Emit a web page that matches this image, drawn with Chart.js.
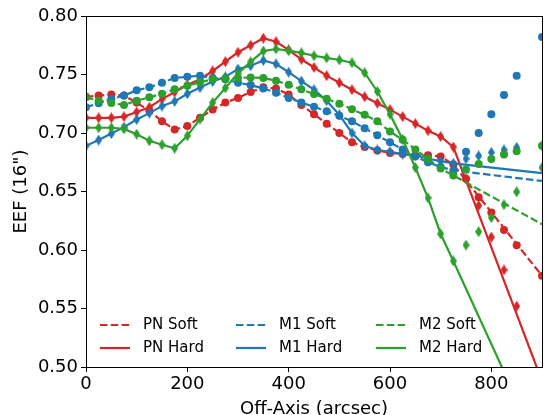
<!DOCTYPE html>
<html>
<head>
<meta charset="utf-8">
<script src="https://cdn.jsdelivr.net/npm/chart.js@4.4.0/dist/chart.umd.min.js"></script>
<style>
html, body { margin: 0; padding: 0; background: #fff; overflow: hidden; }
#wrap { width: 546px; height: 415px; }
</style>
</head>
<body>
<div id="wrap"><canvas id="myChart" width="546" height="415"></canvas></div>
<script>
// EEF vs off-axis angle
const offAxis = [0, 25, 50, 75, 100, 125, 150, 175, 200, 225, 250, 275, 300, 325, 350, 375, 400, 425, 450, 475,
    500, 525, 550, 575, 600, 625, 650, 675, 700, 725, 750, 775, 800, 825, 850, 900]

const pnSoft = [0.731, 0.732, 0.733, 0.732, 0.726, 0.719, 0.710, 0.703, 0.706, 0.713, 0.720, 0.726, 0.730, 0.735, 0.739, 0.738, 0.733, 0.724, 0.716, 0.708,
    0.700, 0.692, 0.688, 0.685, 0.683, 0.682, 0.681, 0.681, 0.680, 0.673, 0.661, 0.645, 0.632, 0.617, 0.604, 0.578]
const pnHard = [0.713, 0.713, 0.713, 0.714, 0.718, 0.722, 0.729, 0.735, 0.741, 0.746, 0.753, 0.761, 0.769, 0.775, 0.781, 0.778, 0.771, 0.763, 0.756, 0.749,
    0.743, 0.737, 0.731, 0.7255, 0.720, 0.714, 0.708, 0.702, 0.697, 0.688, 0.661, 0.638, 0.611, 0.583, 0.552, null]
const m1Soft = [0.722, 0.7255, 0.729, 0.732, 0.7365, 0.739, 0.743, 0.747, 0.748, 0.749, 0.747, 0.746, 0.743, 0.741, 0.738, 0.7345, 0.730, 0.726, 0.7225, 0.7185,
    0.7147, 0.710, 0.704, 0.698, 0.692, 0.686, 0.680, 0.675, 0.671, 0.668, 0.684, 0.700, 0.716, 0.7325, 0.749, 0.782]
const m1Hard = [0.689, 0.694, 0.6995, 0.705, 0.7115, 0.717, 0.723, 0.727, 0.7335, 0.7388, 0.744, 0.748, 0.7547, 0.7575, 0.762, 0.759, 0.752, 0.7443, 0.737, 0.7276,
    0.7155, 0.700, 0.689, 0.6855, 0.684, 0.682, 0.681, 0.678, 0.676, 0.674, 0.678, 0.6805, 0.6834, 0.6856, 0.6877, 0.689]
const m2Soft = [0.7305, 0.7276, 0.7256, 0.724, 0.7276, 0.7305, 0.7336, 0.7373, 0.7404, 0.7433, 0.746, 0.7465, 0.747, 0.7475, 0.747, 0.7447, 0.7412, 0.7373, 0.7333, 0.7293,
    0.725, 0.7203, 0.7155, 0.710, 0.7012, 0.6942, 0.686, 0.6777, 0.6697, 0.6637, 0.6687, 0.6734, 0.6777, 0.6816, 0.6845, 0.689]
const m2Hard = [0.7045, 0.7045, 0.7045, 0.7035, 0.699, 0.6933, 0.690, 0.687, 0.6976, 0.7119, 0.726, 0.7385, 0.751, 0.7608, 0.770, 0.7718, 0.7704, 0.7685, 0.766, 0.7642,
    0.7624, 0.760, 0.7515, 0.7355, 0.7161, 0.6945, 0.6705, 0.6445, 0.6137, 0.5906, 0.6042, 0.6156, 0.6277, 0.6387, 0.6497, 0.6705]

// straight fit lines run from the last fitted point (725") out to 900"
const fitUntil = 725
const fitEndX = 900
const fitEnd = { pnSoft: 0.578, pnHard: 0.488, m1Soft: 0.659, m1Hard: 0.6657, m2Soft: 0.622, m2Hard: 0.425 }

const xTicks = [0, 200, 400, 600, 800]
const yTicks = [0.50, 0.55, 0.60, 0.65, 0.70, 0.75, 0.80]

const colores = { PN: '#d62728', M1: '#1f77b4', M2: '#2ca02c' }
const series = [
    { key: 'pnSoft', det: 'PN', band: 'Soft', vals: pnSoft },
    { key: 'pnHard', det: 'PN', band: 'Hard', vals: pnHard },
    { key: 'm1Soft', det: 'M1', band: 'Soft', vals: m1Soft },
    { key: 'm1Hard', det: 'M1', band: 'Hard', vals: m1Hard },
    { key: 'm2Soft', det: 'M2', band: 'Soft', vals: m2Soft },
    { key: 'm2Hard', det: 'M2', band: 'Hard', vals: m2Hard },
]

const FONT = "'DejaVu Sans', sans-serif"
const DASH = [7.5, 3.3]

function thinDiamond(color) {
    const c = document.createElement('canvas')
    c.width = 7; c.height = 11
    const g = c.getContext('2d')
    g.fillStyle = color
    g.beginPath()
    g.moveTo(3.5, 0); g.lineTo(7, 5.5); g.lineTo(3.5, 11); g.lineTo(0, 5.5)
    g.closePath()
    g.fill()
    return c
}

const datasets = []
series.forEach((s, i) => {
    const color = colores[s.det]
    const pts = offAxis.map((x, j) => ({ x: x, y: s.vals[j] })).filter(p => p.y !== null)
    const linePts = pts.filter(p => p.x <= fitUntil).concat([{ x: fitEndX, y: fitEnd[s.key] }])
    datasets.push({
        label: s.det + ' ' + s.band,
        data: linePts,
        showLine: true,
        borderColor: color,
        borderWidth: 2.2,
        borderDash: s.band === 'Soft' ? DASH : [],
        pointRadius: 0,
        clip: 0,
        order: 100 - i * 2
    })
    datasets.push({
        label: '',
        data: pts,
        showLine: false,
        backgroundColor: color,
        borderWidth: 0,
        pointStyle: s.band === 'Soft' ? 'circle' : thinDiamond(color),
        pointRadius: 4,
        clip: 0,
        order: 99 - i * 2
    })
})

// legend drawn by hand: 3 columns, 2 rows, no frame
const legendCols = [100, 236, 376]
const legendRows = [325, 348]
const legendPlugin = {
    id: 'leyenda',
    afterDraw(chart) {
        const ctx = chart.ctx
        ctx.save()
        ctx.font = '15px ' + FONT
        ctx.textBaseline = 'middle'
        ctx.fillStyle = '#000'
        series.forEach((s, i) => {
            const col = Math.floor(i / 2)
            const row = i % 2
            const x = legendCols[col]
            const y = legendRows[row]
            ctx.strokeStyle = colores[s.det]
            ctx.lineWidth = 2.2
            ctx.setLineDash(s.band === 'Soft' ? DASH : [])
            ctx.beginPath()
            ctx.moveTo(x, y)
            ctx.lineTo(x + 30, y)
            ctx.stroke()
            ctx.setLineDash([])
            ctx.fillText(s.det + ' ' + s.band, x + 43, y)
        })
        ctx.restore()
    }
}

const marcoPlugin = {
    id: 'marco',
    afterDraw(chart) {
        const a = chart.chartArea
        const ctx = chart.ctx
        ctx.save()
        ctx.strokeStyle = '#000'
        ctx.lineWidth = 1
        ctx.strokeRect(Math.round(a.left) + 0.5, Math.round(a.top) + 0.5, Math.round(a.right - a.left), Math.round(a.bottom - a.top))
        ctx.restore()
    }
}

const ctx = document.getElementById('myChart')

new Chart(ctx, {
    type: 'scatter',
    data: { datasets: datasets },
    options: {
        responsive: false,
        animation: false,
        devicePixelRatio: 1,
        layout: { padding: { top: 16, right: 2, left: 0, bottom: 0 } },
        plugins: {
            legend: { display: false },
            tooltip: { enabled: false }
        },
        scales: {
            x: {
                type: 'linear',
                min: 0,
                max: 900,
                afterBuildTicks: (s) => { s.ticks = xTicks.map(v => ({ value: v })) },
                afterFit: (s) => { s.height = 48 },
                ticks: { font: { family: FONT, size: 18 }, color: '#000', padding: 2, maxRotation: 0 },
                grid: { drawOnChartArea: false, drawTicks: true, tickLength: 5, color: '#000' },
                border: { color: '#000', width: 1 },
                title: { display: true, text: 'Off-Axis (arcsec)', font: { family: FONT, size: 18 }, color: '#000', padding: { top: 0, bottom: -5 } }
            },
            y: {
                type: 'linear',
                min: 0.5,
                max: 0.8,
                afterBuildTicks: (s) => { s.ticks = yTicks.map(v => ({ value: v })) },
                afterFit: (s) => { s.width = 86 },
                ticks: { font: { family: FONT, size: 18 }, color: '#000', padding: 3, callback: (v) => v.toFixed(2) },
                grid: { drawOnChartArea: false, drawTicks: true, tickLength: 5, color: '#000' },
                border: { color: '#000', width: 1 },
                title: { display: true, text: 'EEF (16")', font: { family: FONT, size: 18 }, color: '#000', padding: { top: 11, bottom: 0 } }
            }
        }
    },
    plugins: [legendPlugin, marcoPlugin]
})
</script>
</body>
</html>
